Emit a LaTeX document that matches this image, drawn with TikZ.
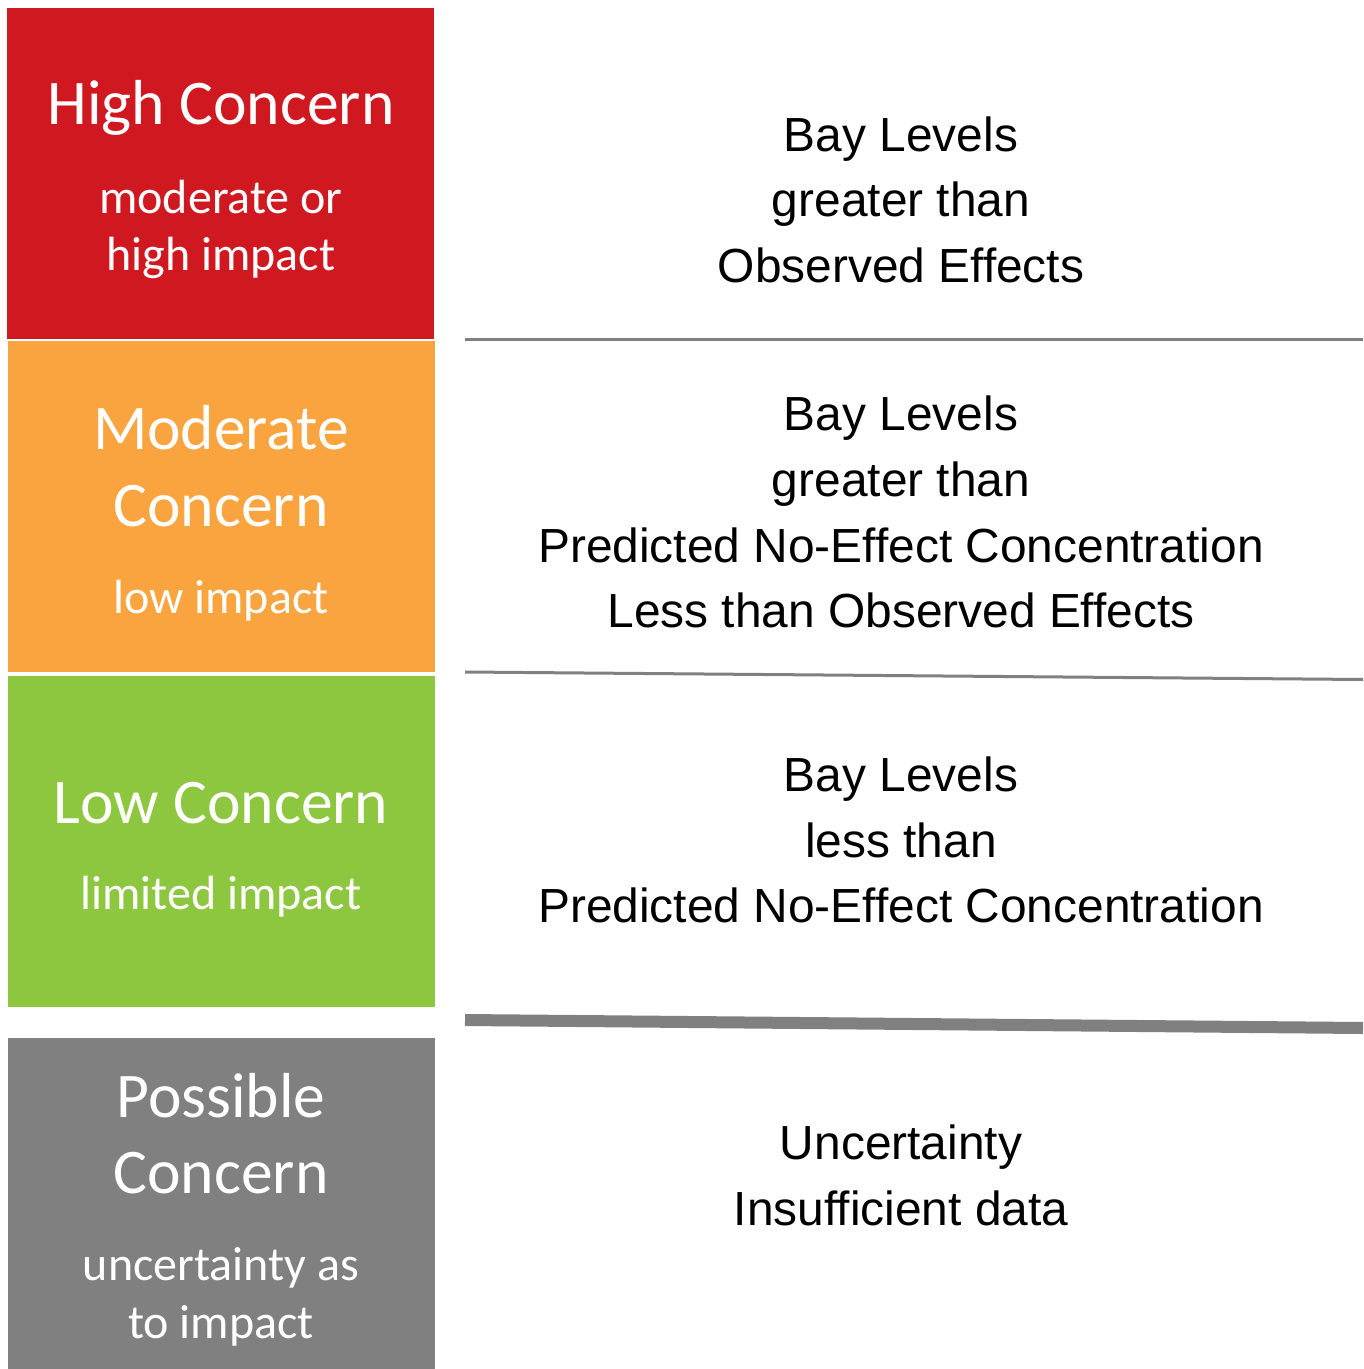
\documentclass[tikz,border=0pt]{standalone}
\usepackage{fontspec}
\setmainfont{Liberation Sans}
\newfontfamily\calibri{Carlito}
\definecolor{concernred}{RGB}{207,24,32}
\definecolor{concernorange}{RGB}{249,164,63}
\definecolor{concerngreen}{RGB}{141,198,63}
\definecolor{concerngray}{RGB}{128,128,128}
\definecolor{rulegray}{RGB}{128,128,128}
\begin{document}
\begin{tikzpicture}[x=0.75pt,y=-0.75pt,
  title/.style={anchor=base,text=white,inner sep=0pt,font=\calibri\fontsize{47.7pt}{57pt}\selectfont},
  subtitle/.style={anchor=base,text=white,inner sep=0pt,font=\calibri\fontsize{36pt}{43pt}\selectfont},
  desc/.style={anchor=base,text=black,inner sep=0pt,font=\fontsize{35.9pt}{43pt}\selectfont},
  rule/.style={draw=rulegray,line width=2.25pt},
  thickrule/.style={draw=rulegray,line width=9pt}]
\useasboundingbox (0,0) rectangle (1363,1369);

% coloured category blocks
\fill[concernred]    (7,8)    rectangle (434,339);
\fill[concernorange] (8,341)  rectangle (435,672);
\fill[concerngreen]  (8,676)  rectangle (435,1007);
\fill[concerngray]   (8,1038) rectangle (435,1369);

% block labels
\node[title]    (hc)  at (221,125)  {High Concern};
\node[subtitle] (hc1) at (221,214)  {moderate or};
\node[subtitle] (hc2) at (221,271)  {high impact};

\node[title]    (mc)  at (221,449)  {Moderate};
\node[title]    (mc1) at (221,526)  {Concern};
\node[subtitle] (mc2) at (221,613)  {low impact};

\node[title]    (lc)  at (221,823)  {Low Concern};
\node[subtitle] (lc1) at (221,909)  {limited impact};

\node[title]    (pc)  at (221,1117) {Possible};
\node[title]    (pc1) at (221,1193) {Concern};
\node[subtitle] (pc2) at (221,1280) {uncertainty as};
\node[subtitle] (pc3) at (221,1338) {to impact};

% separators between the description rows
\coordinate (s1a) at (465,339);  \coordinate (s1b) at (1363,339);
\coordinate (s2a) at (465,672);  \coordinate (s2b) at (1363,679.5);
\coordinate (s3a) at (465,1020); \coordinate (s3b) at (1363,1028);
\draw[rule] (s1a) -- (s1b);
\draw[rule] (s2a) -- (s2b);
\draw[thickrule] (s3a) -- (s3b);

% descriptions
\node[desc] (d1a) at (901,152) {Bay Levels};
\node[desc] (d1b) at (901,217) {greater than};
\node[desc] (d1c) at (901,282) {Observed Effects};

\node[desc] (d2a) at (901,430) {Bay Levels};
\node[desc] (d2b) at (901,496) {greater than};
\node[desc] (d2c) at (901,562) {Predicted No-Effect Concentration};
\node[desc] (d2d) at (901,627) {Less than Observed Effects};

\node[desc] (d3a) at (901,791) {Bay Levels};
\node[desc] (d3b) at (901,857) {less than};
\node[desc] (d3c) at (901,922) {Predicted No-Effect Concentration};

\node[desc] (d4a) at (901,1159) {Uncertainty};
\node[desc] (d4b) at (901,1225) {Insufficient data};
\end{tikzpicture}
\end{document}
